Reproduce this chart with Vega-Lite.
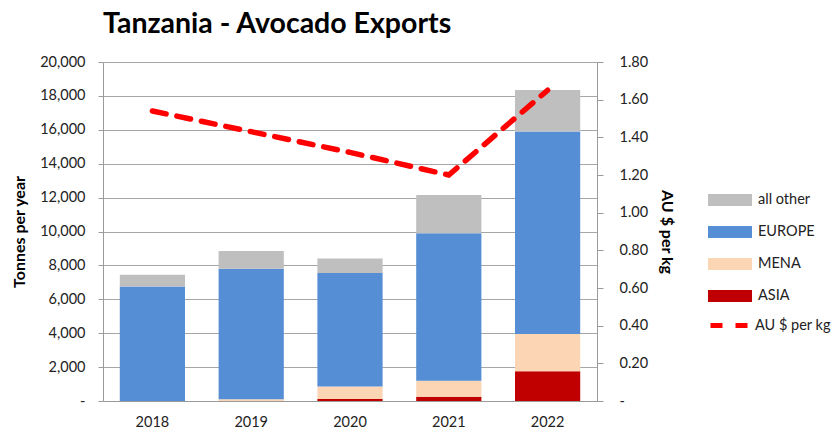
{
  "$schema": "https://vega.github.io/schema/vega-lite/v6.json",
  "autosize": {"type": "none"},
  "width": 494,
  "height": 339,
  "padding": {"left": 103, "top": 62, "right": 241, "bottom": 31},
  "background": "white",
  "title": {"text": "Tanzania - Avocado Exports", "anchor": "start", "frame": "group", "font": "Lato", "fontSize": 28.5, "fontWeight": "bold", "color": "#000000", "offset": 16},
  "config": {
    "view": {"stroke": null},
    "font": "Lato",
    "axis": {"labelFont": "Lato", "labelFontSize": 14.5, "labelColor": "#222222", "titleFont": "Lato", "titleFontSize": 16, "titleFontWeight": "bold", "titleColor": "#000000", "domainColor": "#9a9a9a", "tickColor": "#9a9a9a", "gridColor": "#a6a6a6"},
    "legend": {"labelFont": "Lato", "labelFontSize": 14.5, "labelColor": "#222222", "padding": 0}
  },
  "datasets": {
    "bars": [
      {"year": "2018", "region": "ASIA", "tonnes": 0, "ord": 1},
      {"year": "2018", "region": "MENA", "tonnes": 0, "ord": 2},
      {"year": "2018", "region": "EUROPE", "tonnes": 6750, "ord": 3},
      {"year": "2018", "region": "all other", "tonnes": 700, "ord": 4},
      {"year": "2019", "region": "ASIA", "tonnes": 0, "ord": 1},
      {"year": "2019", "region": "MENA", "tonnes": 100, "ord": 2},
      {"year": "2019", "region": "EUROPE", "tonnes": 7700, "ord": 3},
      {"year": "2019", "region": "all other", "tonnes": 1050, "ord": 4},
      {"year": "2020", "region": "ASIA", "tonnes": 120, "ord": 1},
      {"year": "2020", "region": "MENA", "tonnes": 730, "ord": 2},
      {"year": "2020", "region": "EUROPE", "tonnes": 6700, "ord": 3},
      {"year": "2020", "region": "all other", "tonnes": 850, "ord": 4},
      {"year": "2021", "region": "ASIA", "tonnes": 250, "ord": 1},
      {"year": "2021", "region": "MENA", "tonnes": 950, "ord": 2},
      {"year": "2021", "region": "EUROPE", "tonnes": 8700, "ord": 3},
      {"year": "2021", "region": "all other", "tonnes": 2250, "ord": 4},
      {"year": "2022", "region": "ASIA", "tonnes": 1750, "ord": 1},
      {"year": "2022", "region": "MENA", "tonnes": 2200, "ord": 2},
      {"year": "2022", "region": "EUROPE", "tonnes": 11950, "ord": 3},
      {"year": "2022", "region": "all other", "tonnes": 2450, "ord": 4}
    ],
    "price": [
      {"year": "2018", "price": 1.54, "series": "AU $ per kg"},
      {"year": "2019", "price": 1.43, "series": "AU $ per kg"},
      {"year": "2020", "price": 1.32, "series": "AU $ per kg"},
      {"year": "2021", "price": 1.2, "series": "AU $ per kg"},
      {"year": "2022", "price": 1.65, "series": "AU $ per kg"}
    ]
  },
  "layer": [
    {
      "data": {"name": "bars"},
      "mark": {"type": "bar"},
      "encoding": {
        "x": {"field": "year", "type": "nominal", "scale": {"paddingInner": 0.34, "paddingOuter": 0.17},
          "axis": {"title": null, "labelAngle": 0, "ticks": false, "labelPadding": 14, "labelColor": "#222222"}},
        "y": {"field": "tonnes", "type": "quantitative", "stack": "zero", "scale": {"domain": [0, 20000], "nice": false},
          "axis": {"title": "Tonnes per year", "values": [0, 2000, 4000, 6000, 8000, 10000, 12000, 14000, 16000, 18000, 20000],
            "labelExpr": "datum.value == 0 ? '-' : format(datum.value, ',')", "grid": true, "tickSize": 5, "labelPadding": 13, "titlePadding": 12}},
        "color": {"field": "region", "type": "nominal",
          "scale": {"domain": ["all other", "EUROPE", "MENA", "ASIA"], "range": ["#BFBFBF", "#558ED5", "#FCD5B5", "#C00000"]},
          "legend": {"title": null, "orient": "none", "legendX": 605, "legendY": 116, "symbolType": "M-1,-0.27H1V0.27H-1Z", "symbolSize": 1936, "symbolStrokeWidth": 0, "rowPadding": 3, "labelOffset": 6}},
        "order": {"field": "ord", "type": "quantitative"}
      }
    },
    {
      "data": {"name": "price"},
      "mark": {"type": "line", "strokeWidth": 5.5, "strokeDash": [14, 11], "strokeCap": "round"},
      "encoding": {
        "x": {"field": "year", "type": "nominal"},
        "y": {"field": "price", "type": "quantitative", "scale": {"domain": [0, 1.8], "nice": false},
          "axis": {"orient": "right", "title": "AU $ per kg", "values": [0, 0.2, 0.4, 0.6, 0.8, 1.0, 1.2, 1.4, 1.6, 1.8],
            "labelExpr": "datum.value == 0 ? '-' : format(datum.value, '.2f')", "grid": false, "tickSize": 6, "labelPadding": 16, "titlePadding": 11}},
        "stroke": {"field": "series", "type": "nominal", "scale": {"range": ["#FF0000"]},
          "legend": {"title": null, "orient": "none", "legendX": 605, "legendY": 239, "symbolType": "stroke", "symbolSize": 1936, "symbolStrokeWidth": 5, "symbolDash": [12, 13], "labelOffset": -2}}
      }
    }
  ],
  "resolve": {"scale": {"y": "independent"}}
}
